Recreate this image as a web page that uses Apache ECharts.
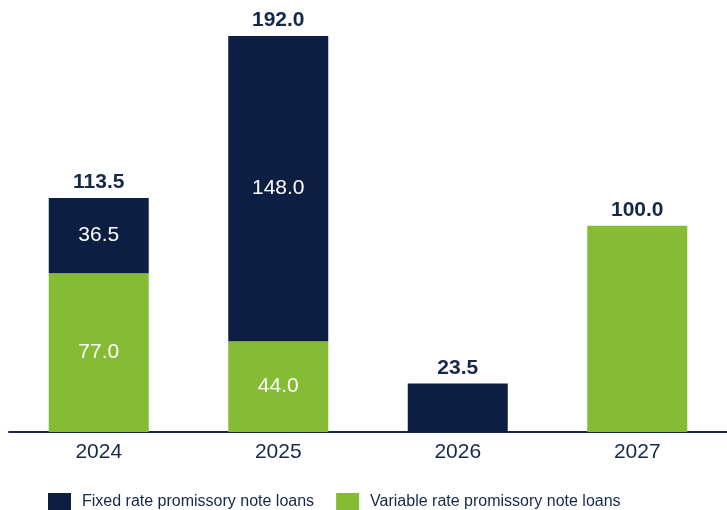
<!DOCTYPE html>
<html>
<head>
<meta charset="utf-8">
<script src="https://cdn.jsdelivr.net/npm/echarts@6/dist/echarts.min.js"></script>
<style>
  html, body { margin: 0; padding: 0; background: #fff; }
  #chart { width: 727px; height: 510px; }
</style>
</head>
<body>
<div id="chart"></div>
<script>
const years = ['2024', '2025', '2026', '2027']
const fixedRate = [36.5, 148.0, 23.5, null]
const variableRate = [77.0, 44.0, null, 100.0]
const totals = [113.5, 192.0, 23.5, 100.0]

const navy = '#0c1f42'
const green = '#86bc35'
const textColor = '#14284b'
const font = '"Liberation Sans", Arial, sans-serif'

const chart = echarts.init(document.getElementById('chart'))

chart.setOption({
  animation: false,
  textStyle: { fontFamily: font },
  grid: { left: 9, top: 36, width: 720, height: 396, containLabel: false },
  legend: {
    data: ['Fixed rate promissory note loans', 'Variable rate promissory note loans'],
    left: 48,
    top: 493,
    padding: 0,
    itemWidth: 23,
    itemHeight: 17,
    itemGap: 22,
    icon: 'rect',
    textStyle: { fontSize: 16, color: textColor, fontFamily: font, padding: [0, 0, 0, 6] }
  },
  xAxis: {
    type: 'category',
    data: years,
    axisLine: { lineStyle: { color: textColor, width: 2 } },
    axisTick: { show: false },
    axisLabel: { fontSize: 21, color: textColor, margin: 10 }
  },
  yAxis: { type: 'value', min: 0, max: 192, show: false, splitLine: { show: false } },
  series: [
    {
      name: 'Variable rate promissory note loans',
      type: 'bar',
      stack: 'loans',
      barWidth: 100,
      data: variableRate,
      itemStyle: { color: green },
      label: {
        show: true,
        position: 'inside',
        fontSize: 21,
        color: '#fff',
        formatter: p => (p.dataIndex === 3 ? '' : p.value.toFixed(1))
      }
    },
    {
      name: 'Fixed rate promissory note loans',
      type: 'bar',
      stack: 'loans',
      barWidth: 100,
      data: fixedRate,
      itemStyle: { color: navy },
      label: {
        show: true,
        position: 'inside',
        fontSize: 21,
        color: '#fff',
        formatter: p => (p.dataIndex === 2 ? '' : p.value.toFixed(1))
      }
    },
    {
      name: 'total',
      type: 'bar',
      stack: 'loans',
      barWidth: 100,
      data: totals.map(() => 0),
      itemStyle: { color: 'transparent' },
      label: {
        show: true,
        position: 'top',
        distance: 5,
        fontSize: 21,
        fontWeight: 'bold',
        color: textColor,
        formatter: p => totals[p.dataIndex].toFixed(1)
      }
    }
  ]
})
</script>
</body>
</html>
